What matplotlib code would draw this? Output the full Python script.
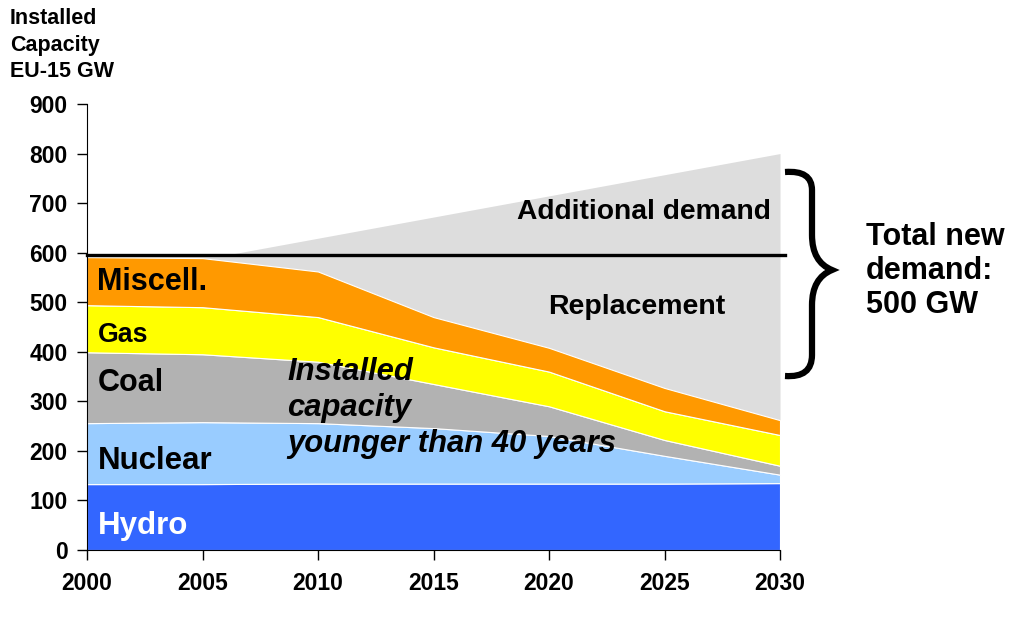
import matplotlib
matplotlib.use('Agg')
import matplotlib.pyplot as plt
from matplotlib.path import Path
from matplotlib.patches import PathPatch

plt.rcParams['font.family'] = ['Liberation Sans', 'DejaVu Sans']
plt.rcParams['font.weight'] = 'bold'

# data (GW)
years = [2000, 2005, 2010, 2015, 2020, 2025, 2030]
hydro = [133, 133, 134, 134, 134, 134, 135]
nuclear = [123, 125, 122, 112, 96, 56, 17]
coal = [143, 137, 124, 89, 60, 32, 18]
gas = [95, 95, 90, 74, 70, 58, 62]
misc = [97, 99, 92, 61, 48, 47, 30]

demand_years = [2000, 2006, 2030]
demand = [595, 595, 800]
current_level = 595

layer_colors = ['#3366FF', '#99CCFF', '#B2B2B2', '#FFFF00', '#FF9900']

fig = plt.figure(figsize=(10.25, 6.3), dpi=100)
ax = fig.add_axes([87/1025, 1-550/630, 693/1025, 446/630])

# total demand in the background
ax.fill_between(demand_years, 0, demand, color='#DDDDDD', linewidth=0)
ax.stackplot(years, hydro, nuclear, coal, gas, misc, colors=layer_colors,
             edgecolor='white', linewidth=0.8)
ax.plot([2000, 2030.2], [current_level, current_level], color='black', lw=2.4,
        clip_on=False, zorder=5)

ax.set_xlim(2000, 2030)
ax.set_ylim(0, 900)
ax.set_xticks(range(2000, 2031, 5))
ax.set_yticks(range(0, 901, 100))
ax.spines['top'].set_visible(False)
ax.spines['right'].set_visible(False)
ax.tick_params(direction='out', length=7, width=1, labelsize=16.5)
ax.tick_params(axis='x', pad=9)
ax.tick_params(axis='y', pad=7)
for lab in ax.get_xticklabels() + ax.get_yticklabels():
    lab.set_fontweight('bold')

# layer labels
tx = 2000.45
ax.text(tx, 541, 'Miscell.', fontsize=22, va='center')
ax.text(tx, 434, 'Gas', fontsize=19.3, va='center')
ax.text(tx, 337, 'Coal', fontsize=22, va='center')
ax.text(tx, 180, 'Nuclear', fontsize=22.5, va='center')
ax.text(tx, 48, 'Hydro', fontsize=22.5, va='center', color='white')

ax.text(2008.66, 286, 'Installed\ncapacity\nyounger than 40 years', fontsize=22.3,
        style='italic', va='center', linespacing=1.27)
ax.text(2024.1, 682, 'Additional demand', fontsize=20.3, va='center', ha='center')
ax.text(2023.8, 490, 'Replacement', fontsize=20.5, va='center', ha='center')

# curly brace
def px(x, y):
    return ((x - 87) / 693 * 30 + 2000, (550 - y) / 446 * 900)

verts = [px(785, 172), px(812, 170), px(812, 190), px(812, 210),
         px(812, 235), px(812, 262), px(832, 270),
         px(812, 278), px(812, 305),
         px(812, 335), px(812, 355), px(812, 378), px(785, 376)]
codes = [Path.MOVETO, Path.CURVE3, Path.CURVE3, Path.LINETO,
         Path.LINETO, Path.CURVE3, Path.CURVE3,
         Path.CURVE3, Path.CURVE3,
         Path.LINETO, Path.LINETO, Path.CURVE3, Path.CURVE3]
brace = PathPatch(Path(verts, codes), facecolor='none', edgecolor='black',
                  lw=4.5, transform=ax.transData, clip_on=False)
ax.add_patch(brace)

fig.text(866/1025, 1-271/630, 'Total new\ndemand:\n500 GW', fontsize=22,
         va='center', ha='left', linespacing=1.17)
fig.text(10/1025, 1-8/630, 'Installed\nCapacity\nEU-15 GW', fontsize=15.5,
         va='top', ha='left', linespacing=1.35)

fig.savefig('out.png', dpi=100)
